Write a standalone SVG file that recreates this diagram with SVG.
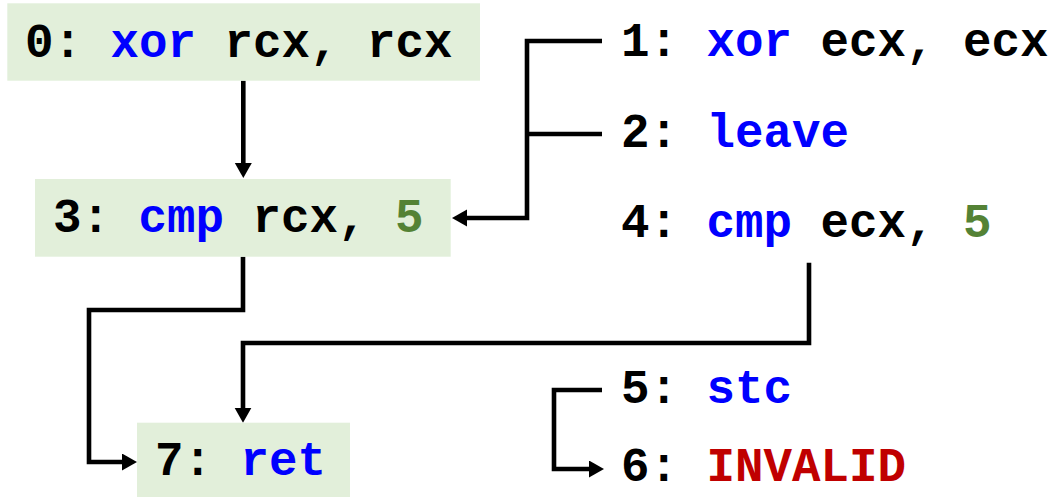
<svg xmlns="http://www.w3.org/2000/svg" width="1058" height="497" viewBox="0 0 1058 497">
  <style>
    .box { fill: #E2EFDA; }
    .code { font-family: "Liberation Mono", "Courier New", monospace; font-weight: bold; font-size: 47.5px; fill: #000000; white-space: pre; }
    .op { fill: #0000FF; }
    .num { fill: #548235; }
    .bad { fill: #C00000; }
    .wire { fill: none; stroke: #000000; stroke-width: 4.6; stroke-linejoin: miter; }
  </style>
  <defs>
    <marker id="arrow" markerUnits="userSpaceOnUse" markerWidth="16" markerHeight="18" refX="7" refY="8.5" orient="auto">
      <path d="M0,0 L15,8.5 L0,17 z" fill="#000000"/>
    </marker>
  </defs>

  <!-- control-flow edges -->
  <g id="connectors">
    <path class="wire" d="M243.3,80.7 V170" marker-end="url(#arrow)"/>
    <path class="wire" d="M602,41 H527 V218 H460" marker-end="url(#arrow)"/>
    <path class="wire" d="M602,134 H527"/>
    <path class="wire" d="M243,256.7 V310 H89 V462 H129" marker-end="url(#arrow)"/>
    <path class="wire" d="M809,262.7 V343 H243 V414.7" marker-end="url(#arrow)"/>
    <path class="wire" d="M602,390 H554 V469 H596" marker-end="url(#arrow)"/>
  </g>

  <!-- reachable blocks (shaded) -->
  <g id="n0">
    <rect class="box" x="7.3" y="3.3" width="472.7" height="77.4"/>
    <text class="code" x="25" y="57">0: <tspan class="op">xor</tspan> rcx, rcx</text>
  </g>
  <g id="n3">
    <rect class="box" x="35" y="179" width="415.7" height="77.7"/>
    <text class="code" x="53" y="232">3: <tspan class="op">cmp</tspan> rcx, <tspan class="num">5</tspan></text>
  </g>
  <g id="n7">
    <rect class="box" x="137" y="422.7" width="213" height="74.3"/>
    <text class="code" x="155" y="475">7: <tspan class="op">ret</tspan></text>
  </g>

  <!-- overlapping decodings -->
  <g id="n1">
    <text class="code" x="621" y="56">1: <tspan class="op">xor</tspan> ecx, ecx</text>
  </g>
  <g id="n2">
    <text class="code" x="621" y="147">2: <tspan class="op">leave</tspan></text>
  </g>
  <g id="n4">
    <text class="code" x="621" y="237">4: <tspan class="op">cmp</tspan> ecx, <tspan class="num">5</tspan></text>
  </g>
  <g id="n5">
    <text class="code" x="621" y="403">5: <tspan class="op">stc</tspan></text>
  </g>
  <g id="n6">
    <text class="code" x="621" y="481">6: <tspan class="bad">INVALID</tspan></text>
  </g>
</svg>
